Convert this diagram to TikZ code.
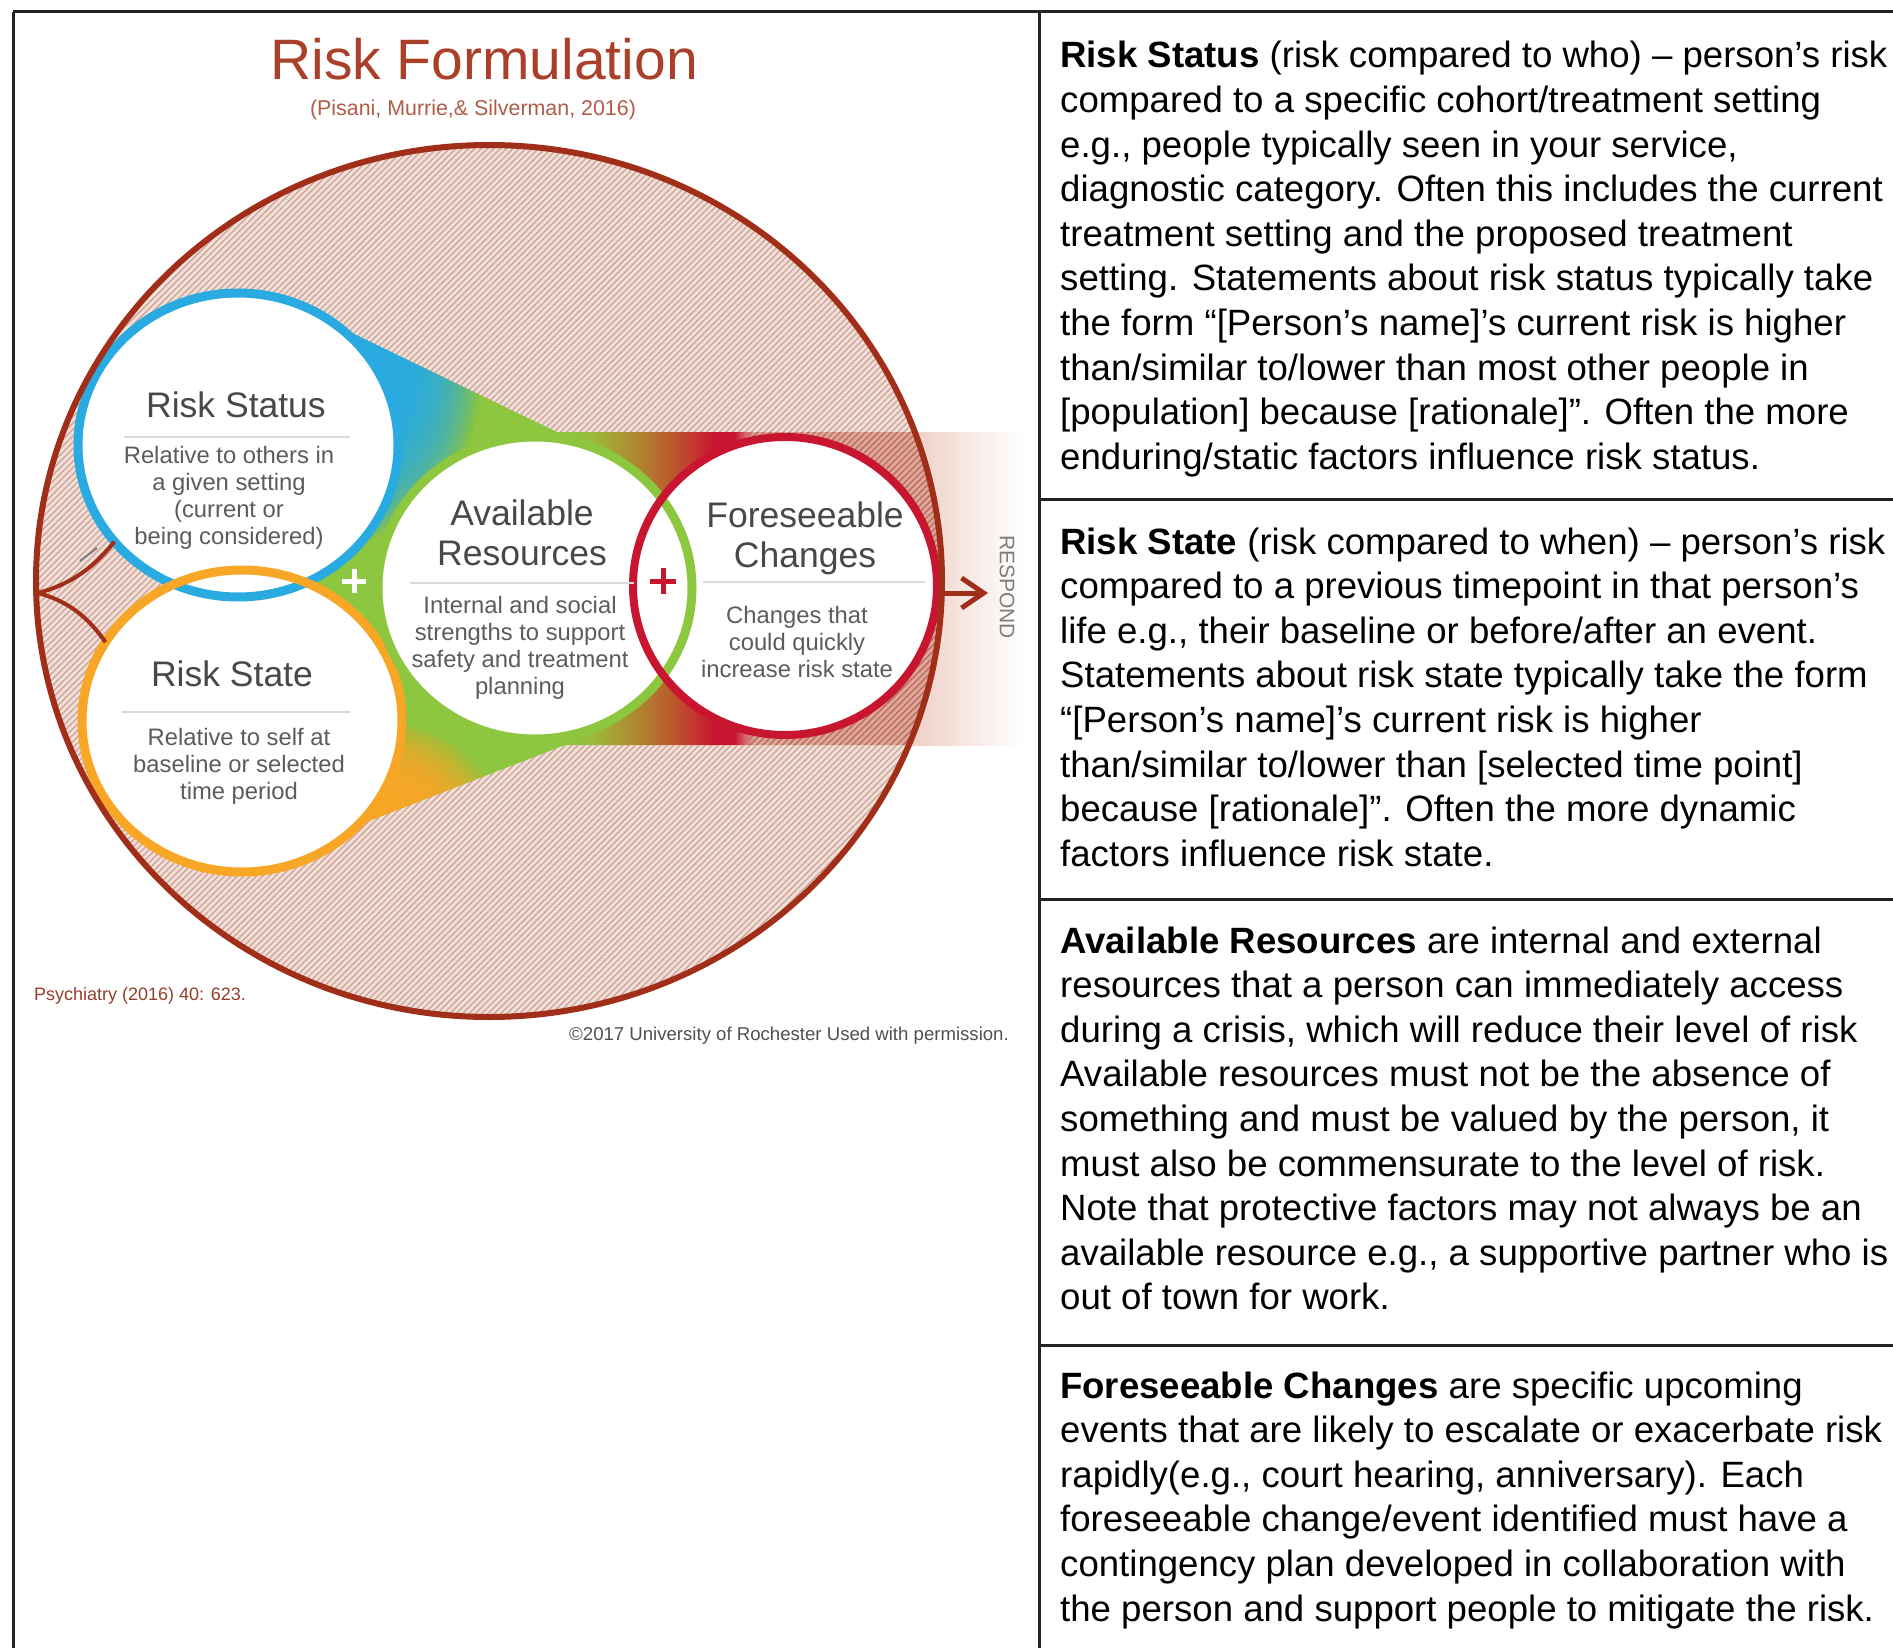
\documentclass[tikz,border=0pt]{standalone}
\usepackage{fontspec}
\setmainfont{Liberation Sans}
\usetikzlibrary{arrows.meta,patterns.meta,fadings,shapes.geometric}

\definecolor{rulecol}{RGB}{35,35,35}
\definecolor{outline}{RGB}{160,46,24}
\definecolor{titlebrown}{RGB}{170,64,42}
\definecolor{citebrown}{RGB}{178,92,72}
\definecolor{hatchbase}{RGB}{240,224,218}
\definecolor{hatchline}{RGB}{210,165,152}
\definecolor{fblue}{RGB}{41,171,226}
\definecolor{forange}{RGB}{248,166,38}
\definecolor{fgreen}{RGB}{141,198,63}
\definecolor{fred}{RGB}{200,22,48}
\definecolor{bandA}{RGB}{152,189,58}
\definecolor{bandB}{RGB}{168,160,52}
\definecolor{bandC}{RGB}{176,130,48}
\definecolor{bandD}{RGB}{184,98,45}
\definecolor{bandE}{RGB}{193,62,45}
\definecolor{tailpink}{RGB}{222,168,155}
\definecolor{tailline}{RGB}{190,110,95}
\definecolor{glowpink}{RGB}{238,204,194}
\definecolor{titlegray}{RGB}{72,72,72}
\definecolor{subgray}{RGB}{92,92,92}
\definecolor{sepgray}{RGB}{218,218,218}
\definecolor{respgray}{RGB}{125,125,125}
\definecolor{footbrown}{RGB}{150,62,42}
\definecolor{copygray}{RGB}{80,80,80}

% colour run of the funnel band, green through red into the pink tail
\pgfdeclarehorizontalshading{funnelband}{100bp}{%
 color(0bp)=(fgreen); color(45.7bp)=(fgreen); color(47.7bp)=(bandA);
 color(49.3bp)=(bandB); color(51bp)=(bandC); color(52.7bp)=(bandD);
 color(54.3bp)=(bandE); color(55.8bp)=(fred); color(57.3bp)=(fred);
 color(58.6bp)=(tailpink); color(100bp)=(tailpink)}

\tikzfading[name=softspot, inner color=transparent!0, outer color=transparent!100]

\tikzset{
  rule/.style={draw=rulecol, line width=3pt},
  ring/.style={ellipse, inner sep=0pt, outer sep=0pt, line width=9pt},
  sepline/.style={draw=sepgray, line width=2.5pt},
  circtitle/.style={text=titlegray, inner sep=0pt, anchor=base, font=\fontsize{35.5}{40}\selectfont},
  circsub/.style={text=subgray, inner sep=0pt, anchor=base, font=\fontsize{23.8}{27.3}\selectfont},
  tabtext/.style={anchor=base west, inner sep=0pt, text=black, font=\fontsize{36.6}{44.6}\selectfont},
  plusmark/.style={line width=5pt},
}

\begin{document}
\begin{tikzpicture}[x=1pt, y=1pt]
\useasboundingbox (0,0) rectangle (1893,-1648);
\fill[white] (0,0) rectangle (1893,-1648);

% ---- table frame ----
\draw[rule] (13,-12) -- (1893,-12);
\draw[rule] (13,-12) -- (13,-1648);
\draw[rule] (1039,-12) -- (1039,-1648);
\draw[rule] (1039,-499) -- (1893,-499);
\draw[rule] (1039,-899) -- (1893,-899);
\draw[rule] (1039,-1345) -- (1893,-1345);

% ---- glow band leaving the circle ----
\shade[left color=glowpink, right color=white] (905,-432) rectangle (1022,-745);

% ---- hatched disc ----
\fill[hatchbase] (489,-581) ellipse [x radius=453, y radius=436];
\fill[pattern={Lines[angle=45,distance=4.5pt,line width=1.4pt]}, pattern color=hatchline]
  (489,-581) ellipse [x radius=453, y radius=436];

% ---- coloured funnel ----
\begin{scope}
  \clip (489,-581) ellipse [x radius=453, y radius=436];
  \clip (238,-445) -- (283,-300) -- (557,-432) -- (1030,-432) -- (1030,-745)
        -- (565,-745) -- (345,-830) -- (242,-721) -- cycle;
  \shade[shading=funnelband] (250,-290) rectangle (1000,-860);
  \foreach \k in {1,2,3,4}{
    \fill[fblue, path fading=softspot] (355,-375) ellipse [x radius=125, y radius=165];
    \fill[forange, path fading=softspot] (380,-825) ellipse [x radius=120, y radius=105];
  }
  \fill[pattern={Lines[angle=45,distance=4.5pt,line width=1.5pt]}, pattern color=tailline]
    (748,-425) rectangle (1000,-755);
\end{scope}

% ---- circles ----
\coordinate (cStatus) at (238,-445);
\coordinate (cState) at (242,-721);
\coordinate (cRes) at (535,-588);
\coordinate (cChg) at (785,-586);
\fill[white] (cStatus) ellipse [x radius=160, y radius=152];
\fill[white] (cState) ellipse [x radius=160, y radius=151];
\fill[white] (cRes) ellipse [x radius=157, y radius=151];
\fill[white] (cChg) ellipse [x radius=152, y radius=149];
\node[ring, draw=fblue, minimum width=320pt, minimum height=304pt] (status) at (cStatus) {};
\node[ring, draw=forange, minimum width=320pt, minimum height=302pt] (state) at (cState) {};
\node[ring, draw=fgreen, minimum width=314pt, minimum height=302pt] (resources) at (cRes) {};
\node[ring, draw=fred, line width=8pt, minimum width=304pt, minimum height=298pt] (changes) at (cChg) {};

% separators under the circle titles
\draw[sepline] (124,-437) -- (350,-437);
\draw[sepline] (122,-712) -- (350,-712);
\draw[sepline] (410,-583) -- (634,-583);
\draw[sepline] (703,-582) -- (925,-582);

% plus signs
\draw[plusmark, white] (342,-581) -- (366,-581) (354,-569) -- (354,-593);
\draw[plusmark, fred] (650,-581) -- (676,-581) (663,-568) -- (663,-594);

% tail of the disc on the left
\coordinate (cusp) at (38,-593);
\draw[outline, line width=4pt] (cusp) .. controls (68,-585) and (92,-570) .. (status.218);
\draw[outline, line width=4pt] (cusp) .. controls (68,-601) and (88,-617) .. (state.150);
\draw[gray, line width=2pt] (80,-561) -- (97,-548);

% ---- outer disc outline ----
\node[draw=outline, line width=6pt, ellipse, inner sep=0pt, outer sep=0pt,
      minimum width=906pt, minimum height=872pt] (outer) at (489,-581) {};

% respond arrow
\coordinate (respondtip) at (988,-593);
\draw[outline, line width=5pt, -{Straight Barb[length=22pt,width=30pt]}]
  (outer.east |- respondtip) -- (respondtip);
\node[rotate=-90, text=respgray, inner sep=0pt, font=\fontsize{21}{21}\selectfont]
  (respond) at (1007,-587) {RESPOND};

% ---- headings ----
\node[anchor=base, inner sep=0pt, text=titlebrown, font=\fontsize{57}{57}\selectfont]
  (title) at (484,-80) {Risk Formulation};
\node[anchor=base, inner sep=0pt, text=citebrown, font=\fontsize{21.4}{21.4}\selectfont]
  (cite) at (473,-116) {(Pisani, Murrie,\& Silverman, 2016)};

% ---- circle texts ----
\node[circtitle] (statusT) at (236,-417) {Risk Status};
\node[circsub] (statusS) at (229,-463)
  {\begin{tabular}[t]{@{}c@{}}Relative to others in\\a given setting\\(current or\\being considered)\end{tabular}};
\node[circtitle] (stateT) at (232,-686) {Risk State};
\node[circsub] (stateS) at (239,-745)
  {\begin{tabular}[t]{@{}c@{}}Relative to self at\\baseline or selected\\time period\end{tabular}};
\node[circtitle] (resT) at (522,-525)
  {\begin{tabular}[t]{@{}c@{}}Available\\Resources\end{tabular}};
\node[circsub] (resS) at (520,-613)
  {\begin{tabular}[t]{@{}c@{}}Internal and social\\strengths to support\\safety and treatment\\planning\end{tabular}};
\node[circtitle] (chgT) at (805,-527)
  {\begin{tabular}[t]{@{}c@{}}Foreseeable\\Changes\end{tabular}};
\node[circsub] (chgS) at (797,-623)
  {\begin{tabular}[t]{@{}c@{}}Changes that\\could quickly\\increase risk state\end{tabular}};

% ---- footnotes ----
\node[anchor=base west, inner sep=0pt, text=footbrown, font=\fontsize{18}{18}\selectfont]
  (journal) at (34,-1000) {Psychiatry (2016) 40: 623.};
\node[anchor=base west, inner sep=0pt, text=copygray, font=\fontsize{18.6}{18.6}\selectfont]
  (copyright) at (569,-1040) {©2017 University of Rochester Used with permission.};

% ---- table texts ----
\node[tabtext] (rowStatus) at (1060,-68) {\begin{tabular}[t]{@{}l@{}}
\textbf{Risk Status} (risk compared to who) – person’s risk\\
compared to a specific cohort/treatment setting\\
e.g., people typically seen in your service,\\
diagnostic category. Often this includes the current\\
treatment setting and the proposed treatment\\
setting. Statements about risk status typically take\\
the form “[Person’s name]’s current risk is higher\\
than/similar to/lower than most other people in\\
{[}population] because [rationale]”. Often the more\\
enduring/static factors influence risk status.
\end{tabular}};

\node[tabtext] (rowState) at (1060,-554) {\begin{tabular}[t]{@{}l@{}}
\textbf{Risk State} (risk compared to when) – person’s risk\\
compared to a previous timepoint in that person’s\\
life e.g., their baseline or before/after an event.\\
Statements about risk state typically take the form\\
“[Person’s name]’s current risk is higher\\
than/similar to/lower than [selected time point]\\
because [rationale]”. Often the more dynamic\\
factors influence risk state.
\end{tabular}};

\node[tabtext] (rowRes) at (1060,-953) {\begin{tabular}[t]{@{}l@{}}
\textbf{Available Resources} are internal and external\\
resources that a person can immediately access\\
during a crisis, which will reduce their level of risk\\
Available resources must not be the absence of\\
something and must be valued by the person, it\\
must also be commensurate to the level of risk.\\
Note that protective factors may not always be an\\
available resource e.g., a supportive partner who is\\
out of town for work.
\end{tabular}};

\node[tabtext] (rowChg) at (1060,-1398) {\begin{tabular}[t]{@{}l@{}}
\textbf{Foreseeable Changes} are specific upcoming\\
events that are likely to escalate or exacerbate risk\\
rapidly(e.g., court hearing, anniversary). Each\\
foreseeable change/event identified must have a\\
contingency plan developed in collaboration with\\
the person and support people to mitigate the risk.
\end{tabular}};
\end{tikzpicture}
\end{document}
